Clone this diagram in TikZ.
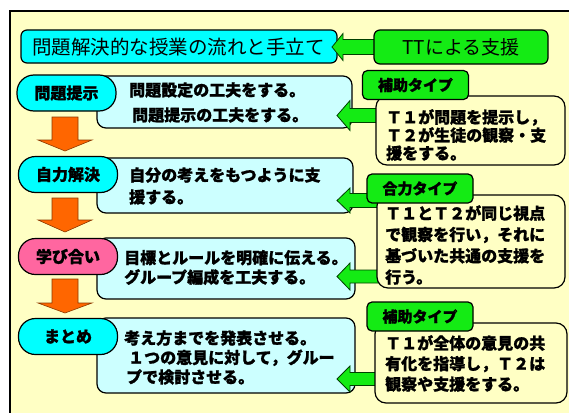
\documentclass[tikz,border=0pt]{standalone}
\usepackage{fontspec}
\newfontfamily\jp{Noto Sans CJK JP}[BoldFeatures={FakeBold=1.2}]
\definecolor{bgy}{RGB}{255,255,196}
\definecolor{cyanc}{RGB}{0,255,255}
\definecolor{lblue}{RGB}{204,255,255}
\definecolor{gr}{RGB}{20,235,20}
\definecolor{pinkc}{RGB}{255,102,160}
\definecolor{orc}{RGB}{255,102,0}
\newcommand\garrow[6]{% tipx, cy, headback x, end x, head half, body half
  \draw[garrowst] (#1,#2) -- (#3,#2-#5) -- (#3,#2-#6) -- (#4,#2-#6) -- (#4,#2+#6) -- (#3,#2+#6) -- (#3,#2+#5) -- cycle;}
\newcommand\oarrow[6]{% cx, top, headtop, tip, body half, head half
  \draw[oarrowst] (#1-#5,#2) -- (#1+#5,#2) -- (#1+#5,#3) -- (#1+#6,#3) -- (#1,#4) -- (#1-#6,#3) -- (#1-#5,#3) -- cycle;}
\begin{document}
\begin{tikzpicture}[x=1pt,y=-1pt,
  box/.style={draw=black, line width=1.2pt},
  pillbox/.style={box, rounded corners=17pt, minimum width=99pt, minimum height=36pt, inner sep=0pt,
     font=\jp\bfseries\fontsize{16}{18}\selectfont},
  bluebox/.style={box, fill=lblue, rounded corners=9pt, inner sep=0pt},
  yelbox/.style={box, fill=bgy, rounded corners=11pt, inner sep=0pt},
  lblbox/.style={box, fill=gr, rounded corners=5pt, inner sep=0pt, minimum width=106pt, minimum height=29pt,
     font=\jp\bfseries\fontsize{15}{17}\selectfont},
  txt/.style={anchor=west, inner sep=0pt, align=left},
  garrowst/.style={fill=gr, draw=black!75!green, line width=0.8pt, line join=miter},
  oarrowst/.style={fill=orc, draw=black!45!orc, line width=0.6pt, line join=miter}]
\clip (0,0) rectangle (569,412);
\fill[white] (0,0) rectangle (569,412);
\draw[fill=bgy, line width=1.6pt] (10,11) rectangle (620,460);

% header
\node[box, fill=cyanc, rounded corners=6pt, minimum width=316pt, minimum height=33pt, inner sep=0pt] (title) at (179,46.5) {};
\node[txt, font=\jp\fontsize{19.5}{22}\selectfont] (titletxt) at (32,47) {問題解決的な授業の流れと手立て};
\garrow{332}{47}{343}{376}{13.5}{7.5}
\node[box, fill=gr, rounded corners=6pt, minimum width=174pt, minimum height=34pt, inner sep=0pt,
  font=\jp\fontsize{19}{22}\selectfont] (tt) at (461,47) {TTによる支援};

% orange arrows
\oarrow{65}{117}{140}{151}{13}{27}
\oarrow{65}{198}{220}{232}{13}{27}
\oarrow{65}{279}{303}{313}{13}{27}

% blue boxes
\node[bluebox, minimum width=255pt, minimum height=52pt] (b1) at (224.5,102) {};
\node[bluebox, minimum width=256pt, minimum height=55pt] (b2) at (225,185.5) {};
\node[bluebox, minimum width=258pt, minimum height=61pt] (b3) at (226,268.5) {};
\node[bluebox, minimum width=258pt, minimum height=75pt] (b4) at (226,355.5) {};

% pills
\node[pillbox, fill=cyanc] (p1) at (66.5,93) {問題提示};
\node[pillbox, fill=cyanc] (p2) at (68,174.5) {自力解決};
\node[pillbox, fill=pinkc] (p3) at (68,256.5) {学び合い};
\node[pillbox, fill=cyanc] (p4) at (68,336.5) {まとめ};

% green arrows
\garrow{337}{115.5}{350}{385}{15}{7}
\garrow{337}{200.5}{350}{385}{12.5}{7}
\garrow{337}{276.5}{350}{385}{13.5}{6.5}
\garrow{337}{379}{350}{385}{13}{6.5}

% yellow boxes
\node[yelbox, minimum width=189pt, minimum height=69pt] (y1) at (470.5,130.5) {};
\node[yelbox, minimum width=188pt, minimum height=93pt] (y2) at (471,241.5) {};
\node[yelbox, minimum width=192pt, minimum height=80pt] (y3) at (471,363) {};

% labels
\node[lblbox] (l1) at (415.5,85) {補助タイプ};
\node[lblbox] (l2) at (420,188.5) {合力タイプ};
\node[lblbox] (l3) at (420,316.5) {補助タイプ};

% texts
\node[txt, font=\jp\bfseries\fontsize{16}{25}\selectfont] (t1) at (129,102.5) {問題設定の工夫をする。\\\hspace{3pt}問題提示の工夫をする。};
\node[txt, font=\jp\bfseries\fontsize{16}{22}\selectfont] (t2) at (129,186) {自分の考えをもつように支\\援する。};
\node[txt, font=\jp\bfseries\fontsize{16}{19.5}\selectfont] (t3) at (124,267.5) {目標とルールを明確に伝える。\\グループ編成を工夫する。};
\node[txt, font=\jp\bfseries\fontsize{16}{19.5}\selectfont] (t4) at (124,357.5) {考え方までを発表させる。\\\hspace{4pt}１つの意見に対して，グルー\\\hspace{2pt}プで検討させる。};

\node[txt, font=\jp\bfseries\fontsize{16}{18}\selectfont] (u1) at (386,135) {Ｔ１が問題を提示し，\\Ｔ２が生徒の観察・支\\援をする。};
\node[txt, font=\jp\bfseries\fontsize{16}{21.3}\selectfont] (u2) at (385,245) {Ｔ１とＴ２が同じ視点\\で観察を行い，それに\\基づいた共通の支援を\\行う。};
\node[txt, font=\jp\bfseries\fontsize{16}{20.5}\selectfont] (u3) at (385,363.5) {Ｔ１が全体の意見の共\\有化を指導し，Ｔ２は\\観察や支援をする。};
\end{tikzpicture}
\end{document}
